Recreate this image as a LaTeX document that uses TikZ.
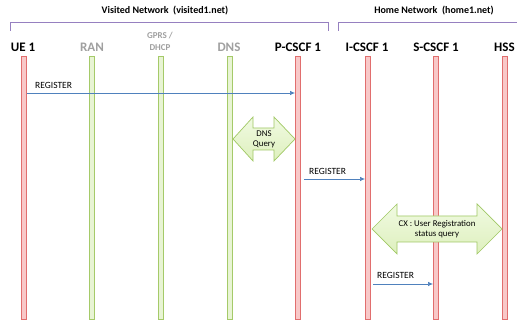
\documentclass[tikz,border=0pt]{standalone}
\usepackage{fontspec}
\setmainfont{Carlito}
\usetikzlibrary{arrows.meta}
\definecolor{redfill}{RGB}{248,200,200}
\definecolor{reddraw}{RGB}{225,110,110}
\definecolor{grnfill}{RGB}{232,244,212}
\definecolor{grndraw}{RGB}{165,202,105}
\definecolor{msgblue}{RGB}{79,129,189}
\definecolor{brk}{RGB}{150,128,192}
\definecolor{hdrgray}{RGB}{160,160,160}
\definecolor{darrfill}{RGB}{222,240,190}
\definecolor{darrtop}{RGB}{240,250,225}
\definecolor{darrdraw}{RGB}{160,200,100}
\begin{document}
\begin{tikzpicture}[x=1pt,y=-1pt,
  redline/.style={draw=reddraw,fill=redfill,line width=1pt,minimum width=5pt,minimum height=263pt,inner sep=0pt},
  grnline/.style={draw=grndraw,fill=grnfill,line width=1pt,minimum width=5pt,minimum height=263pt,inner sep=0pt},
  hdr/.style={font=\bfseries\fontsize{13}{14}\selectfont,inner sep=0pt},
  hdrg/.style={hdr,text=hdrgray},
  netlbl/.style={font=\bfseries\fontsize{10}{12}\selectfont,inner sep=0pt},
  msg/.style={draw=msgblue,line width=0.7pt,-{Latex[length=5pt,width=4.5pt]}},
  msglbl/.style={font=\fontsize{9.5}{11}\selectfont,inner sep=0pt,anchor=base west},
  darr/.style={draw=darrdraw,line width=0.7pt,top color=darrtop,bottom color=darrfill},
  darrlbl/.style={font=\fontsize{8.8}{9.8}\selectfont,align=center,inner sep=0pt},
  bracket/.style={draw=brk,line width=0.9pt}]
\useasboundingbox[fill=white] (0,0) rectangle (517,328);

% network brackets
\coordinate (v1) at (10,31);
\coordinate (v2) at (10,22);
\coordinate (v3) at (328,22);
\coordinate (v4) at (328,31);
\draw[bracket] (v1) -- (v2) -- (v3) -- (v4);
\coordinate (h1) at (338,31);
\coordinate (h2) at (338,22);
\coordinate (h3) at (520,22);
\draw[bracket] (h1) -- (h2) -- (h3);
\node[netlbl] (vn) at (165,11) {Visited Network\ \ (visited1.net)};
\node[netlbl] (hn) at (434,11) {Home Network\ \ (home1.net)};

% lifelines
\node[redline] (ue) at (23.5,188) {};
\node[grnline] (ran) at (92,188) {};
\node[grnline] (gprs) at (161,188) {};
\node[grnline] (dns) at (229.5,188) {};
\node[redline] (pcscf) at (298,188) {};
\node[redline] (icscf) at (367.5,188) {};
\node[redline] (scscf) at (436,188) {};
\node[redline] (hss) at (505,188) {};

% headers
\node[hdr] (tue) at (23,47) {UE 1};
\node[hdrg] (tran) at (92,47) {RAN};
\node[font=\bfseries\fontsize{9}{12}\selectfont,text=hdrgray,align=center,inner sep=0pt] (tgprs) at (160,41.5) {GPRS /\\DHCP};
\node[hdrg] (tdns) at (229,47) {DNS};
\node[hdr] (tp) at (298,47) {P-CSCF 1};
\node[hdr] (ti) at (367,47) {I-CSCF 1};
\node[hdr] (ts) at (436,47) {S-CSCF 1};
\node[hdr,anchor=west] (th) at (494,47) {HSS};

% message 1
\coordinate (y1s) at (27,93);
\coordinate (y1e) at (295,93);
\draw[msg] (y1s) -- (y1e);
\node[msglbl] (l1) at (35,89) {REGISTER};

% DNS query
\draw[darr] (233,139) -- (253,117) -- (253,128) -- (274,128) -- (274,117) -- (295,139)
  -- (274,161) -- (274,150) -- (253,150) -- (253,161) -- cycle;
\node[darrlbl] (dq) at (264,139) {DNS\\Query};

% message 2
\coordinate (y2s) at (304,179);
\coordinate (y2e) at (365,179);
\draw[msg] (y2s) -- (y2e);
\node[msglbl] (l2) at (309,175) {REGISTER};

% CX query
\draw[darr] (372,229) -- (397,204) -- (397,216) -- (477,216) -- (477,204) -- (502,229)
  -- (477,254) -- (477,242) -- (397,242) -- (397,254) -- cycle;
\node[darrlbl] (cx) at (437,229) {CX : User Registration\\status query};

% message 3
\coordinate (y3s) at (373,284);
\coordinate (y3e) at (433,284);
\draw[msg] (y3s) -- (y3e);
\node[msglbl] (l3) at (377,279) {REGISTER};
\end{tikzpicture}
\end{document}
